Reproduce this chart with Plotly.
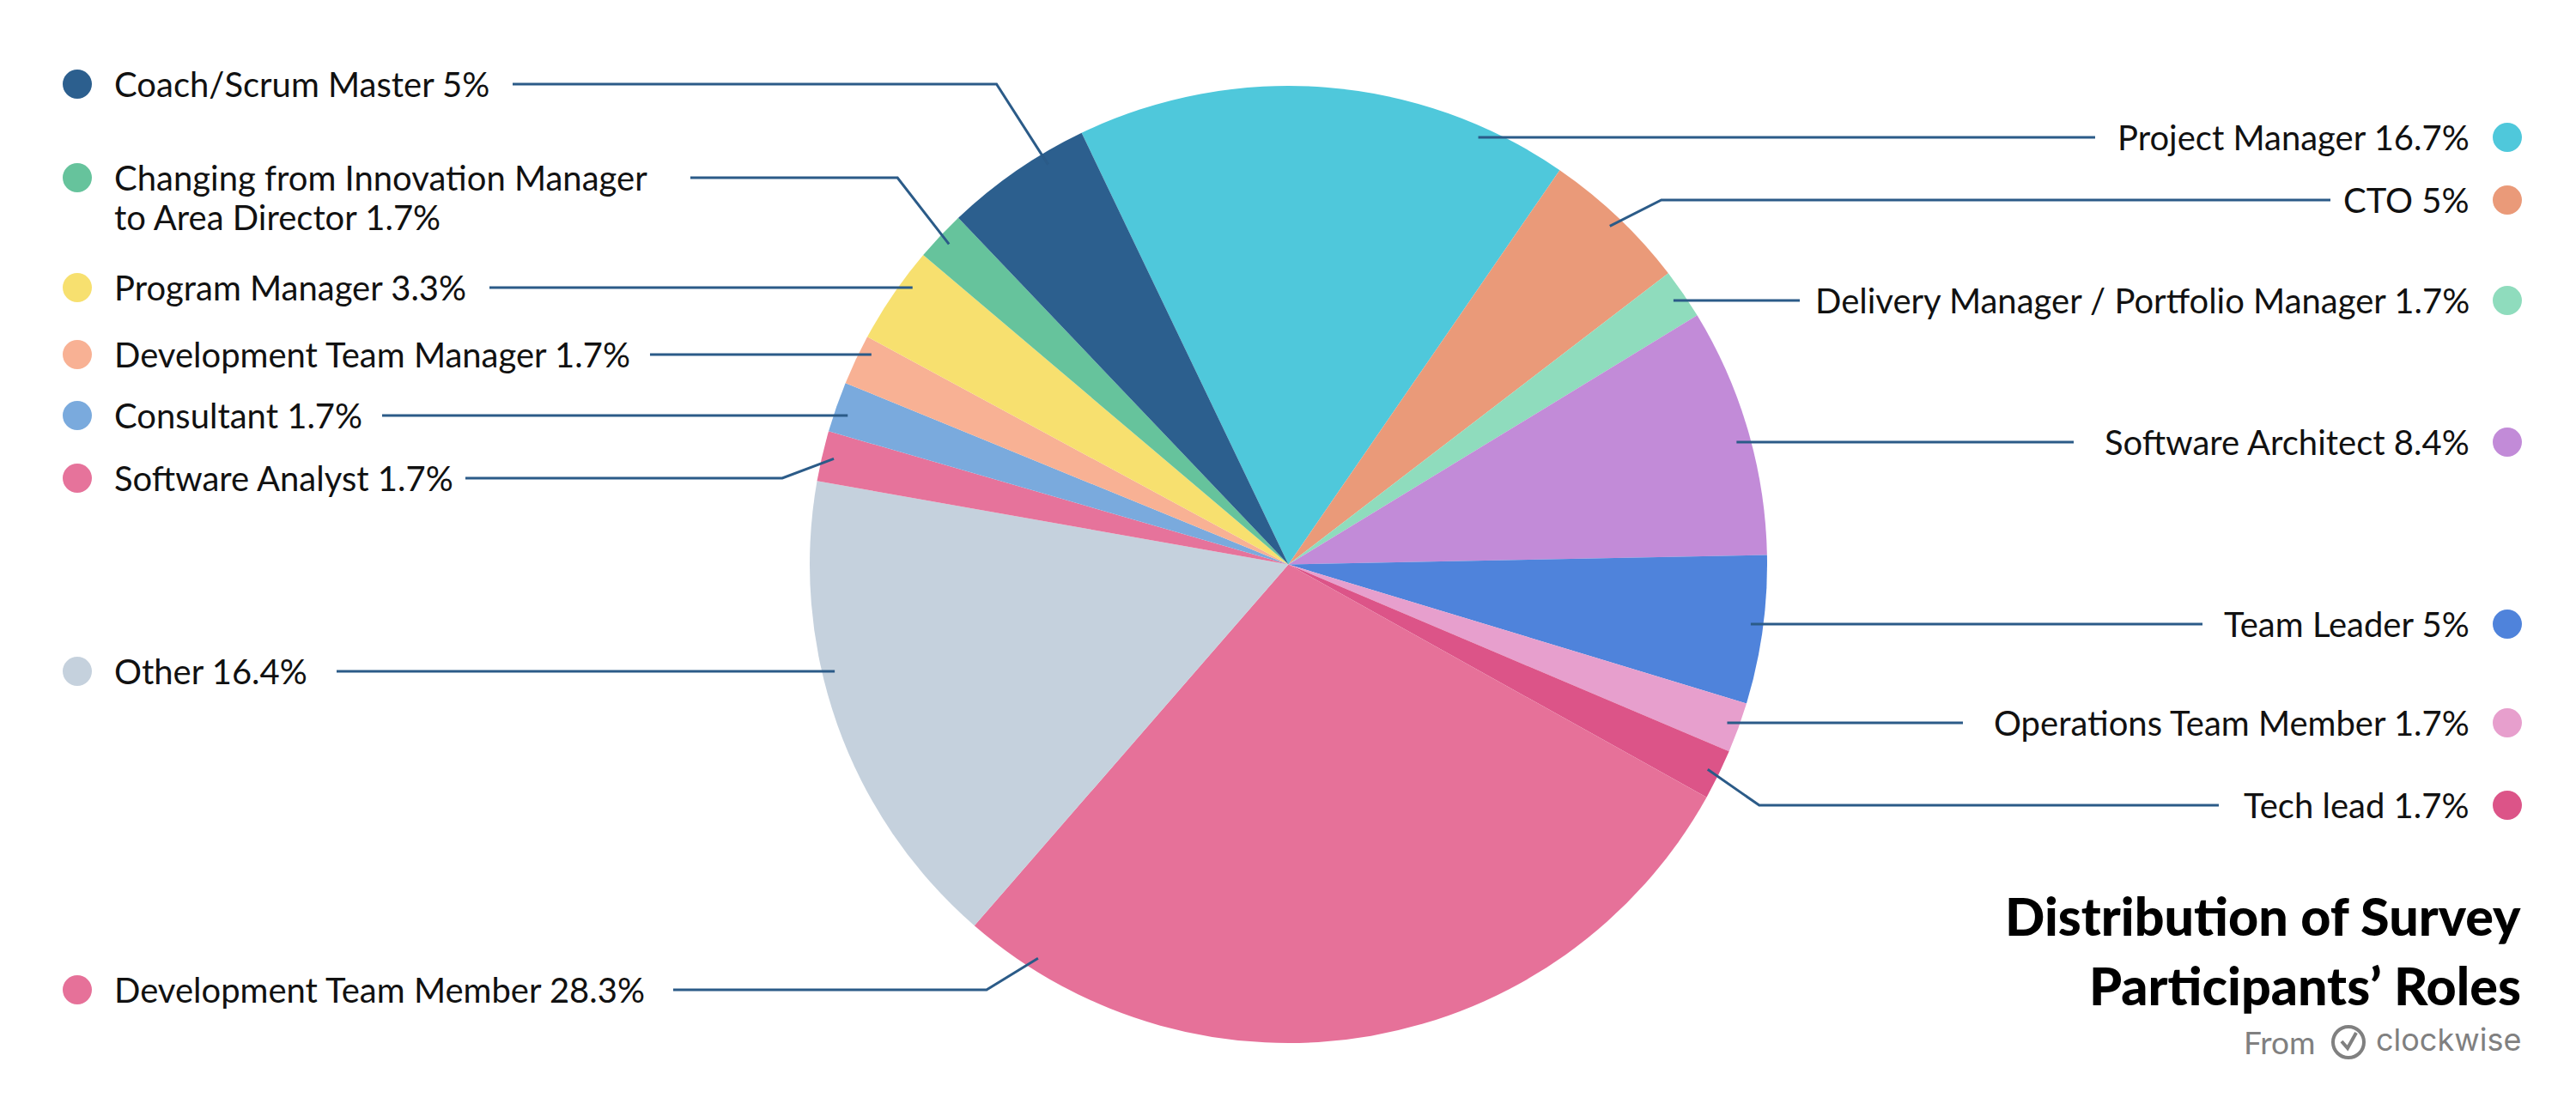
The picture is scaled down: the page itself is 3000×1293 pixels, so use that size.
import math
import plotly.graph_objects as go

# ---------------- data ----------------
roles = [
    "Project Manager", "CTO", "Delivery Manager / Portfolio Manager",
    "Software Architect", "Team Leader", "Operations Team Member", "Tech lead",
    "Development Team Member", "Other", "Software Analyst", "Consultant",
    "Development Team Manager", "Program Manager",
    "Changing from Innovation Manager\nto Area Director", "Coach/Scrum Master",
]
shares = [16.7, 5, 1.7, 8.4, 5, 1.7, 1.7, 28.3, 16.4, 1.7, 1.7, 1.7, 3.3, 1.7, 5]
colors = [
    "#4fc8db", "#ea9a79", "#8fdcbd", "#c28bd8", "#4f83db", "#e79fcd", "#dc5488",
    "#e67199", "#c5d1dd", "#e6739b", "#7aaadd", "#f8b194", "#f7e06f",
    "#66c39c", "#2c5f8e",
]
title_lines = ["Distribution of Survey", "Participants\u2019 Roles"]

# ---------------- layout (pixels) ----------------
W, H = 3000, 1293
CX, CY, R = 1500.5, 657.5, 557.5
START_DEG = -25.6            # first slice begins 25.6 deg left of 12 o'clock
side = ["R"] * 7 + ["L"] * 8
label_y = [160, 233, 350, 515, 727, 842, 938, 1153, 782, 557, 484, 413, 335, 207, 98]
line_end_x = [2440, 2714, 2096, 2415, 2565, 2286, 2584, 784, 392, 542, 445, 757, 570, 804, 597]
anchor_frac = [0.825, 0.5, 0.5, 0.5, 0.5, 0.5, 0.5, 0.916, 0.6, 0.5, 0.5, 0.72, 0.67, 0.5, 0.7]
LEFT_DOT_X, LEFT_TEXT_X = 90, 131
RIGHT_DOT_X, RIGHT_TEXT_X = 2920, 2878
DOT_R = 17
LINE_COLOR = "#2b5b88"
FONT = "Lato"
LABEL_SIZE = 40
LINE_GAP = 46


def px(x):
    return x / W


def py(y):
    return 1 - y / H


fig = go.Figure()
fig.add_trace(go.Pie(
    labels=[r.replace("\n", " ") for r in roles],
    values=shares,
    marker=dict(colors=colors, line=dict(width=0)),
    sort=False,
    direction="clockwise",
    rotation=START_DEG,
    textinfo="none",
    hoverinfo="label+percent",
    showlegend=False,
    domain=dict(x=[px(CX - R), px(CX + R)], y=[py(CY + R), py(CY - R)]),
))

shapes = []
annotations = []
total = sum(shares)
cum = 0.0
for i, v in enumerate(shares):
    a0 = START_DEG + 360 * cum / total
    a1 = START_DEG + 360 * (cum + v) / total
    cum += v
    ang = math.radians(a0 + (a1 - a0) * anchor_frac[i])
    ax = CX + 0.975 * R * math.sin(ang)
    ay = CY - 0.975 * R * math.cos(ang)
    ly = label_y[i]
    sgn = 1 if side[i] == "R" else -1
    if abs(ay - ly) > 12:
        pts = [(ax, ay), (ax + sgn * 60, ly), (line_end_x[i], ly)]
    else:
        pts = [(ax, ly), (line_end_x[i], ly)]
    path = "M " + " L ".join(f"{px(x):.5f},{py(y):.5f}" for x, y in pts)
    shapes.append(dict(type="path", xref="paper", yref="paper", path=path,
                       line=dict(color=LINE_COLOR, width=3)))

    lines = f"{roles[i]} {v:g}%".split("\n")
    dot_x = RIGHT_DOT_X if side[i] == "R" else LEFT_DOT_X
    shapes.append(dict(type="circle", xref="paper", yref="paper",
                       x0=px(dot_x - DOT_R), x1=px(dot_x + DOT_R),
                       y0=py(ly + DOT_R), y1=py(ly - DOT_R),
                       fillcolor=colors[i], line=dict(width=0)))
    for j, t in enumerate(lines):
        annotations.append(dict(
            x=px(RIGHT_TEXT_X if side[i] == "R" else LEFT_TEXT_X), y=py(ly + j * LINE_GAP),
            xref="paper", yref="paper", showarrow=False, text=t,
            xanchor="right" if side[i] == "R" else "left", yanchor="middle",
            font=dict(family=FONT, size=LABEL_SIZE, color="#111111")))

# title
for t, yy in zip(title_lines, [1066, 1147]):
    annotations.append(dict(x=px(2938), y=py(yy), xref="paper", yref="paper",
                            showarrow=False, text=t, xanchor="right", yanchor="middle",
                            font=dict(family=FONT, size=61, color="#000000", weight=900)))

# source line
annotations.append(dict(x=px(2698), y=py(1213), xref="paper", yref="paper", showarrow=False,
                        text="From", xanchor="right", yanchor="middle",
                        font=dict(family=FONT, size=37, color="#808080")))
annotations.append(dict(x=px(2938), y=py(1211), xref="paper", yref="paper", showarrow=False,
                        text="clockwise", xanchor="right", yanchor="middle",
                        font=dict(family="Inter", size=36, color="#808080")))
shapes.append(dict(type="circle", xref="paper", yref="paper",
                   x0=px(2735 - 18), x1=px(2735 + 18), y0=py(1214 + 18), y1=py(1214 - 18),
                   line=dict(color="#808080", width=4)))
shapes.append(dict(type="path", xref="paper", yref="paper",
                   path=f"M {px(2727):.5f},{py(1213):.5f} L {px(2734):.5f},{py(1221):.5f} L {px(2744):.5f},{py(1203):.5f}",
                   line=dict(color="#808080", width=4)))

fig.update_layout(
    width=W, height=H,
    margin=dict(l=0, r=0, t=0, b=0),
    paper_bgcolor="white", plot_bgcolor="white",
    shapes=shapes, annotations=annotations,
)
fig.write_html("out.html", config={"displayModeBar": False},
               post_script="document.body.style.margin='0';document.body.style.overflow='hidden';")
